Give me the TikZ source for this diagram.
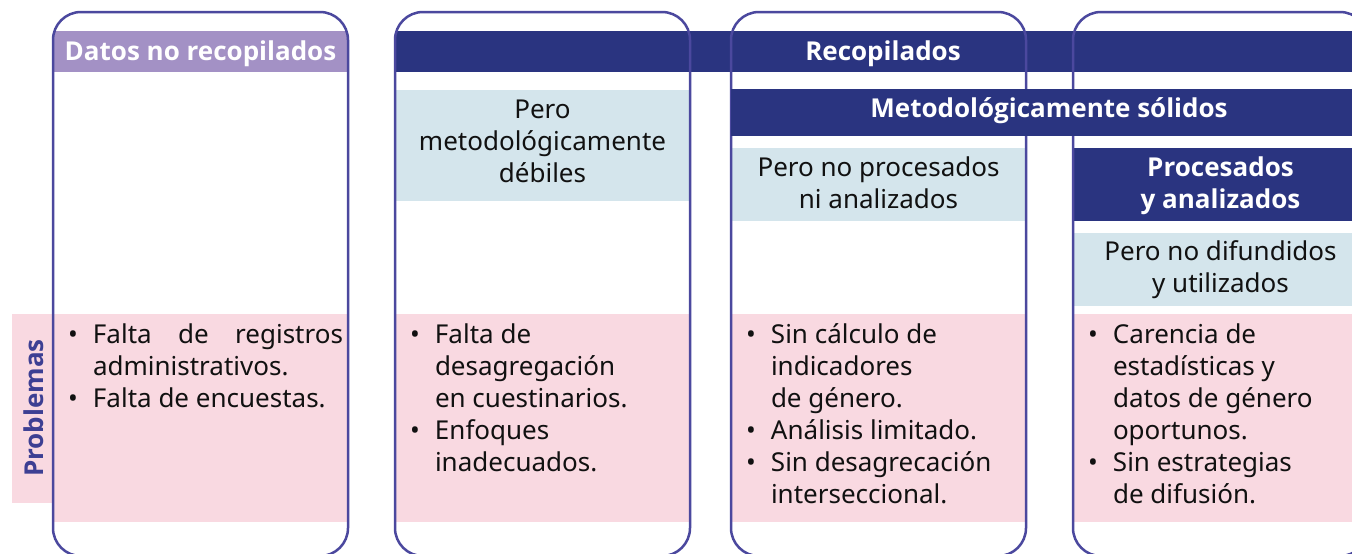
\documentclass[tikz,border=0pt]{standalone}
\usepackage{fontspec}
\setmainfont{Noto Sans}
\newfontfamily\obold{Open Sans}
\definecolor{navy}{HTML}{2A3480}
\definecolor{lilac}{HTML}{A391C5}
\definecolor{lblue}{HTML}{D4E5EC}
\definecolor{pinkc}{HTML}{F9D9E1}
\definecolor{linec}{HTML}{4B489E}
\definecolor{probc}{HTML}{3D3F93}
\definecolor{txt}{HTML}{111111}
\newcommand{\cln}[1]{\hbox to 0pt{\hss#1\hss}}
\newcommand{\bln}[1]{\hbox{\makebox[25pt][l]{•}#1}}
\newcommand{\cnt}[1]{\hbox{\hspace*{25pt}#1}}
\newcommand{\stk}[1]{\vtop{\baselineskip=32pt\lineskiplimit=-50pt #1}}
\begin{document}
\begin{tikzpicture}[x=1pt,y=-1pt,
  every node/.style={inner sep=0pt, outer sep=0pt},
  fnt/.style={font=\fontsize{26pt}{32pt}\selectfont, text=txt},
  bfnt/.style={font=\fontsize{26pt}{32pt}\selectfont\obold\bfseries, text=white},
  panel/.style={rectangle, anchor=north west, draw=none},
  colbox/.style={rectangle, anchor=north west, draw=linec, line width=2.5pt, rounded corners=28pt, minimum width=295pt, minimum height=544pt},
  lbl/.style={fnt, anchor=base},
  blbl/.style={bfnt, anchor=base},
  lst/.style={fnt, anchor=base west}
]
\useasboundingbox (0,0) rectangle (1352,554);
\clip (0,0) rectangle (1352,554);
% header bars
\node[panel, fill=lilac, minimum width=295pt, minimum height=41pt] (hdr1) at (53,31) {};
\node[panel, fill=navy, minimum width=976pt, minimum height=41pt] (recbar) at (395,31) {};
% sub boxes
\node[panel, fill=lblue, minimum width=295pt, minimum height=111pt] (deb) at (395,90) {};
\node[panel, fill=lblue, minimum width=295pt, minimum height=73pt] (nopro) at (731,148) {};
\node[panel, fill=navy, minimum width=295pt, minimum height=73pt] (pro) at (1074,148) {};
\node[panel, fill=lblue, minimum width=295pt, minimum height=73pt] (nodif) at (1074,233) {};
% pink problem areas
\node[panel, fill=pinkc, minimum width=41pt, minimum height=189pt] (probbox) at (12,314) {};
\node[panel, fill=pinkc, minimum width=295pt, minimum height=208pt] (p1) at (53,314) {};
\node[panel, fill=pinkc, minimum width=295pt, minimum height=208pt] (p2) at (395,314) {};
\node[panel, fill=pinkc, minimum width=295pt, minimum height=208pt] (p3) at (731,314) {};
\node[panel, fill=pinkc, minimum width=296pt, minimum height=208pt] (p4) at (1073,314) {};
% labels
\node[blbl] (t1) at (200.5,60) {Datos no recopilados};
\node[blbl] (t2) at (883,60) {Recopilados};
\node[lbl] (t4) at (542.5,118) {\stk{\cln{Pero}\cln{metodológicamente}\cln{débiles}}};
\node[lbl] (t5) at (878.5,176) {\stk{\cln{Pero no procesados}\cln{ni analizados}}};
\node[blbl] (t6) at (1220.5,176) {\stk{\cln{Procesados}\cln{y analizados}}};
\node[lbl] (t7) at (1220.5,260) {\stk{\cln{Pero no difundidos}\cln{y utilizados}}};
\node[bfnt, text=probc, anchor=base, rotate=90] (prob) at (43,408) {Problemas};
% lists
\node[lst] (l1) at (68,343) {\stk{\bln{\makebox[250pt][l]{Falta\hfill de\hfill registros}}\cnt{administrativos.}\bln{Falta de encuestas.}}};
\node[lst] (l2) at (410,343) {\stk{\bln{Falta de}\cnt{desagregación}\cnt{en cuestinarios.}\bln{Enfoques}\cnt{inadecuados.}}};
\node[lst] (l3) at (746,343) {\stk{\bln{Sin cálculo de}\cnt{indicadores}\cnt{de género.}\bln{Análisis limitado.}\bln{Sin desagrecación}\cnt{interseccional.}}};
\node[lst] (l4) at (1088,343) {\stk{\bln{Carencia de}\cnt{estadísticas y}\cnt{datos de género}\cnt{oportunos.}\bln{Sin estrategias}\cnt{de difusión.}}};
% column outlines
\node[colbox] (c1) at (53,12) {};
\node[colbox] (c2) at (395,12) {};
\node[colbox] (c3) at (731,12) {};
\node[colbox] (c4) at (1073,12) {};
% bar drawn over the outlines
\node[panel, fill=navy, minimum width=636pt, minimum height=47pt] (metbar) at (731,89) {};
\node[blbl] (t3) at (1049,117) {Metodológicamente sólidos};
\end{tikzpicture}
\end{document}
